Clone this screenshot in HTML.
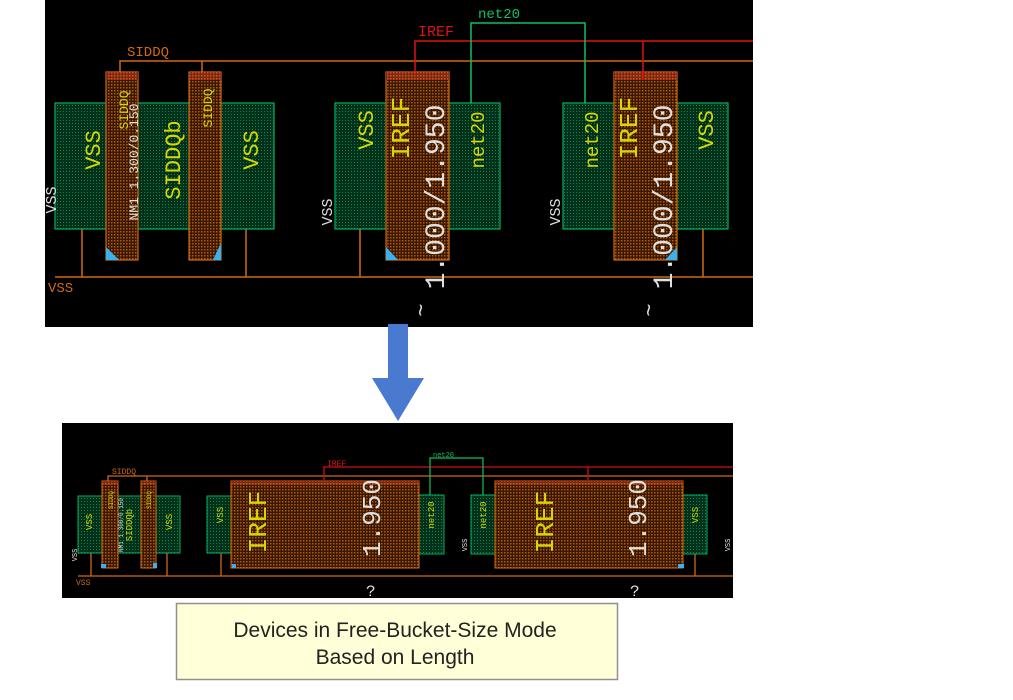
<!DOCTYPE html>
<html><head><meta charset="utf-8"><style>
html,body{margin:0;padding:0;background:#fff;width:1013px;height:700px;overflow:hidden}
svg{display:block}
</style></head><body>
<svg width="1013" height="700" viewBox="0 0 1013 700" xmlns="http://www.w3.org/2000/svg" font-family="Liberation Mono, DejaVu Sans Mono, monospace">
<defs>
<pattern id="gp" width="3" height="3" patternUnits="userSpaceOnUse"><rect width="3" height="3" fill="#02301a"/><rect width="1" height="1" fill="#0a8a4a"/></pattern>
<pattern id="op" width="3" height="3" patternUnits="userSpaceOnUse"><rect width="3" height="3" fill="#3a1800"/><rect width="1.5" height="1.5" fill="#b05a10"/></pattern>
<pattern id="rp" width="3" height="3" patternUnits="userSpaceOnUse"><rect width="3" height="3" fill="#7a2a10"/><rect width="1.5" height="1.5" fill="#e05020"/></pattern>
</defs>
<!-- TOP PANEL -->
<rect x="45" y="0" width="708" height="327" fill="#000"/>
<g fill="url(#gp)" stroke="#00b060" stroke-width="1.2">
<rect x="55" y="103" width="219" height="126"/>
<rect x="335" y="103" width="53" height="126"/>
<rect x="448" y="103" width="52" height="126"/>
<rect x="563" y="103" width="52" height="126"/>
<rect x="675" y="103" width="53" height="126"/>
</g>
<g stroke="#d06a10" stroke-width="1.2">
<rect x="106" y="72" width="32" height="188" fill="url(#op)"/>
<rect x="189" y="72" width="32" height="188" fill="url(#op)"/>
<rect x="386" y="72" width="63" height="188" fill="url(#op)"/>
<rect x="614" y="72" width="63" height="188" fill="url(#op)"/>
</g>
<g fill="url(#rp)"><rect x="106" y="72" width="32" height="8"/><rect x="189" y="72" width="32" height="8"/><rect x="386" y="72" width="63" height="8"/><rect x="614" y="72" width="63" height="8"/></g>
<g fill="#3ab0f0"><polygon points="106,247 106,260 119,260"/><polygon points="221,243 221,260 213,260"/><polygon points="386,247 386,260 398,260"/><polygon points="677,247 677,260 665,260"/></g>
<g stroke="#d06a10" stroke-width="1.5" fill="none">
<polyline points="120,72 120,61 753,61"/><line x1="202" y1="61" x2="202" y2="72"/>
<line x1="55" y1="277" x2="753" y2="277"/>
<line x1="82" y1="229" x2="82" y2="277"/><line x1="246" y1="229" x2="246" y2="277"/>
<line x1="360" y1="229" x2="360" y2="277"/><line x1="703" y1="229" x2="703" y2="277"/>
</g>
<g stroke="#e01010" stroke-width="1.5" fill="none"><polyline points="415,72 415,41 753,41"/><line x1="643" y1="41" x2="643" y2="80"/></g>
<polyline points="471,103 471,23 585,23 585,103" stroke="#10c060" stroke-width="1.5" fill="none"/>
<text x="127" y="56" fill="#d06a10" font-size="14">SIDDQ</text>
<text x="48" y="292" fill="#d06a10" font-size="14">VSS</text>
<text x="418" y="36" fill="#e01010" font-size="15">IREF</text>
<text x="478" y="18" fill="#10c060" font-size="14">net20</text>
<g fill="#d8d800">
<text transform="translate(100,150) rotate(-90)" font-size="22" text-anchor="middle">VSS</text>
<text transform="translate(258,150) rotate(-90)" font-size="22" text-anchor="middle">VSS</text>
<text transform="translate(180,160) rotate(-90)" font-size="22" text-anchor="middle">SIDDQb</text>
<text transform="translate(128,110) rotate(-90)" font-size="13" text-anchor="middle">SIDDQ</text>
<text transform="translate(212,108) rotate(-90)" font-size="13" text-anchor="middle">SIDDQ</text>
<text transform="translate(373,130) rotate(-90)" font-size="22" text-anchor="middle">VSS</text>
<text transform="translate(713,130) rotate(-90)" font-size="22" text-anchor="middle">VSS</text>
<text transform="translate(484,140) rotate(-90)" font-size="19" text-anchor="middle">net20</text>
<text transform="translate(598,140) rotate(-90)" font-size="19" text-anchor="middle">net20</text>
<text transform="translate(409,128) rotate(-90)" font-size="26" text-anchor="middle">IREF</text>
<text transform="translate(637,128) rotate(-90)" font-size="26" text-anchor="middle">IREF</text>
</g>
<g fill="#e0e0e0">
<text transform="translate(138,162) rotate(-90)" font-size="13" text-anchor="middle">NM1 1.300/0.150</text>
<text transform="translate(444,197) rotate(-90)" font-size="28" text-anchor="middle">1.000/1.950</text>
<text transform="translate(672,197) rotate(-90)" font-size="28" text-anchor="middle">1.000/1.950</text>
<text transform="translate(332,212) rotate(-90)" font-size="15" text-anchor="middle">VSS</text>
<text transform="translate(560,212) rotate(-90)" font-size="15" text-anchor="middle">VSS</text>
<text transform="translate(56,200) rotate(-90)" font-size="15" text-anchor="middle">VSS</text>
<text transform="translate(428,310) rotate(-90)" font-size="22" text-anchor="middle">~</text>
<text transform="translate(656,310) rotate(-90)" font-size="22" text-anchor="middle">~</text>
</g>
<!-- ARROW -->
<rect x="388" y="324" width="20" height="56" fill="#4a7ad0"/>
<polygon points="372,378 424,378 398,421" fill="#4a7ad0"/>
<!-- BOTTOM PANEL -->
<rect x="62" y="423" width="671" height="175" fill="#000"/>
<g fill="url(#gp)" stroke="#00b060" stroke-width="1">
<rect x="78" y="496" width="102" height="57"/>
<rect x="207" y="496" width="26" height="57"/>
<rect x="419" y="495" width="25" height="59"/>
<rect x="471" y="495" width="25" height="59"/>
<rect x="683" y="495" width="24" height="59"/>
</g>
<g stroke="#d06a10" stroke-width="1" fill="url(#op)">
<rect x="102" y="481" width="16" height="87"/>
<rect x="141" y="481" width="15" height="87"/>
<rect x="231" y="481" width="188" height="87"/>
<rect x="495" y="481" width="188" height="87"/>
</g>
<g fill="url(#rp)"><rect x="102" y="481" width="16" height="4"/><rect x="141" y="481" width="15" height="4"/><rect x="231" y="481" width="188" height="4"/><rect x="495" y="481" width="188" height="4"/></g>
<g fill="#3ab0f0"><rect x="101" y="564" width="5" height="4"/><rect x="153" y="563" width="4" height="5"/><rect x="232" y="564" width="4" height="4"/><rect x="678" y="564" width="6" height="4"/></g>
<g stroke="#d06a10" stroke-width="1.3" fill="none">
<polyline points="108,481 108,476 733,476"/><line x1="147" y1="476" x2="147" y2="481"/>
<line x1="78" y1="576" x2="733" y2="576"/>
<line x1="91" y1="553" x2="91" y2="576"/><line x1="167" y1="553" x2="167" y2="576"/>
<line x1="221" y1="553" x2="221" y2="576"/><line x1="695" y1="554" x2="695" y2="576"/>
</g>
<g stroke="#d01010" stroke-width="1.3" fill="none"><polyline points="324,481 324,467 733,467"/><line x1="588" y1="467" x2="588" y2="481"/></g>
<polyline points="430,495 430,458 483,458 483,495" stroke="#10c060" stroke-width="1.2" fill="none"/>
<text x="112" y="474" fill="#d06a10" font-size="8">SIDDQ</text>
<text x="76" y="585" fill="#d06a10" font-size="8">VSS</text>
<text x="327" y="466" fill="#e01010" font-size="8">IREF</text>
<text x="433" y="457" fill="#10c060" font-size="7">net20</text>
<g fill="#d8d800">
<text transform="translate(92,522) rotate(-90)" font-size="9" text-anchor="middle">VSS</text>
<text transform="translate(172,522) rotate(-90)" font-size="9" text-anchor="middle">VSS</text>
<text transform="translate(132,525) rotate(-90)" font-size="9" text-anchor="middle">SIDDQb</text>
<text transform="translate(113,500) rotate(-90)" font-size="6" text-anchor="middle">SIDDQ</text>
<text transform="translate(151,500) rotate(-90)" font-size="6" text-anchor="middle">SIDDQ</text>
<text transform="translate(223,515) rotate(-90)" font-size="9" text-anchor="middle">VSS</text>
<text transform="translate(698,515) rotate(-90)" font-size="9" text-anchor="middle">VSS</text>
<text transform="translate(434,515) rotate(-90)" font-size="9" text-anchor="middle">net20</text>
<text transform="translate(486,515) rotate(-90)" font-size="9" text-anchor="middle">net20</text>
<text transform="translate(266,522) rotate(-90)" font-size="26" text-anchor="middle">IREF</text>
<text transform="translate(553,522) rotate(-90)" font-size="26" text-anchor="middle">IREF</text>
</g>
<g fill="#e0e0e0">
<text transform="translate(123,525) rotate(-90)" font-size="6" text-anchor="middle">NM1 1.300/0.150</text>
<text transform="translate(380,518) rotate(-90)" font-size="26" text-anchor="middle">1.950</text>
<text transform="translate(646,518) rotate(-90)" font-size="26" text-anchor="middle">1.950</text>
<text transform="translate(77,555) rotate(-90)" font-size="7" text-anchor="middle">VSS</text>
<text transform="translate(467,545) rotate(-90)" font-size="7" text-anchor="middle">VSS</text>
<text transform="translate(730,545) rotate(-90)" font-size="7" text-anchor="middle">VSS</text>
<text x="366" y="596" font-size="16">?</text>
<text x="630" y="596" font-size="16">?</text>
</g>
<!-- CAPTION -->
<rect x="176.5" y="603.5" width="441" height="76" fill="#ffffd8" stroke="#909090" stroke-width="1.5"/>
<text x="395" y="637" font-family="Liberation Sans, sans-serif" font-size="21" fill="#222" text-anchor="middle">Devices in Free-Bucket-Size Mode</text>
<text x="395" y="664" font-family="Liberation Sans, sans-serif" font-size="21" fill="#222" text-anchor="middle">Based on Length</text>
</svg>
</body></html>
